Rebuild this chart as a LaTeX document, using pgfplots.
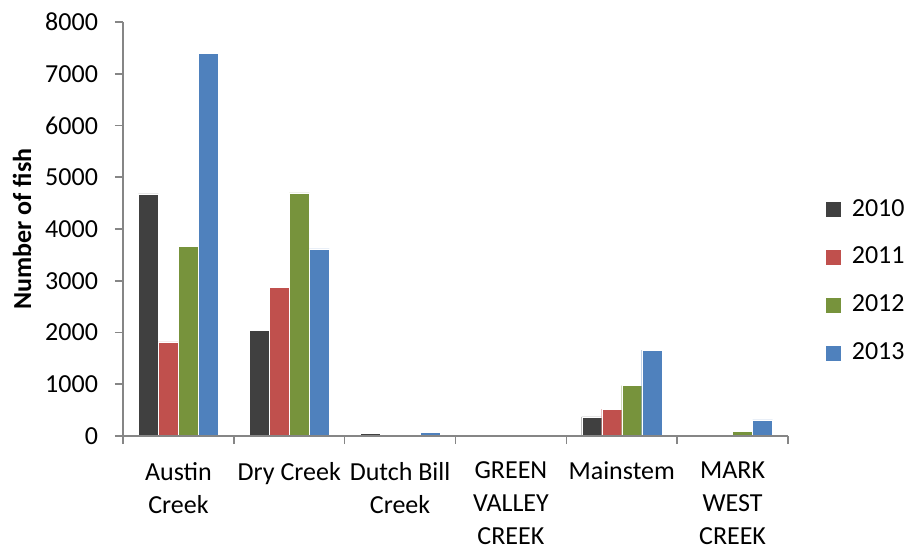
\documentclass[border=0pt]{standalone}
\usepackage{fontspec}
\setmainfont{Carlito}
\usepackage{pgfplots}
\pgfplotsset{compat=1.18}
\definecolor{c2010}{HTML}{404040}
\definecolor{c2011}{HTML}{C0504D}
\definecolor{c2012}{HTML}{77933C}
\definecolor{c2013}{HTML}{4F81BD}
\definecolor{axgray}{HTML}{868686}
\begin{document}
\fontsize{13}{15.5}\selectfont
\begin{tikzpicture}
\useasboundingbox (-61.5pt,-55pt) rectangle (392.5pt,218pt);
\begin{axis}[
  at={(0,0)}, anchor=south west,
  scale only axis,
  width=332.5pt, height=207pt,
  ybar=0pt, bar width=10pt,
  xmin=-0.5, xmax=5.5,
  ymin=0, ymax=8000,
  ytick={0,1000,...,8000},
  xtick={0,1,2,3,4,5},
  xticklabels={Austin\\Creek, Dry Creek, Dutch Bill\\Creek, GREEN\\VALLEY\\CREEK, Mainstem, MARK\\WEST\\CREEK},
  minor xtick={-0.5,0.5,...,5.5},
  major x tick style={draw=none},
  minor tick length=4pt,
  major tick length=4pt,
  tick align=outside,
  xtick pos=bottom, ytick pos=left,
  axis x line*=bottom, axis y line*=left,
  axis line style={axgray, line width=0.8pt, -},
  every tick/.style={axgray, line width=0.8pt},
  minor x tick style={axgray, line width=0.8pt},
  axis on top,
  xticklabel style={align=center, font=\fontsize{13}{16.5}\selectfont, yshift=-4.5pt},
  yticklabel style={font=\fontsize{13}{15}\selectfont, xshift=-4pt},
  /pgf/number format/assume math mode=true,
  scaled y ticks=false,
  yticklabel={\pgfmathprintnumber[fixed,1000 sep={}]{\tick}},
  ylabel={\textbf{Number of fish}},
  ylabel style={font=\fontsize{13.5}{15}\selectfont},
  every axis y label/.style={at={(rel axis cs:0,0.5)}, xshift=-50.5pt, rotate=90, anchor=center},
  legend style={at={(rel axis cs:1.0557,0.374)}, anchor=west, draw=none, fill=none,
     row sep=10.5pt, font=\fontsize{13}{15}\selectfont, inner sep=0pt,
     nodes={inner sep=1.5pt},
     /tikz/every odd column/.append style={column sep=3.5pt}},
  legend cell align=left,
  legend image code/.code={\fill[#1] (0pt,-4pt) rectangle (8pt,4pt);},
  clip=false,
]
\addplot[fill=c2010, draw=white, line width=0.2pt] coordinates {(0,4680) (1,2040) (2,50) (3,0) (4,370) (5,0)};
\addplot[fill=c2011, draw=white, line width=0.2pt] coordinates {(0,1820) (1,2875) (2,10) (3,0) (4,520) (5,0)};
\addplot[fill=c2012, draw=white, line width=0.2pt] coordinates {(0,3665) (1,4700) (2,30) (3,0) (4,975) (5,95)};
\addplot[fill=c2013, draw=white, line width=0.2pt] coordinates {(0,7400) (1,3615) (2,75) (3,0) (4,1660) (5,310)};
\legend{2010,2011,2012,2013}
\end{axis}
\end{tikzpicture}
\end{document}
